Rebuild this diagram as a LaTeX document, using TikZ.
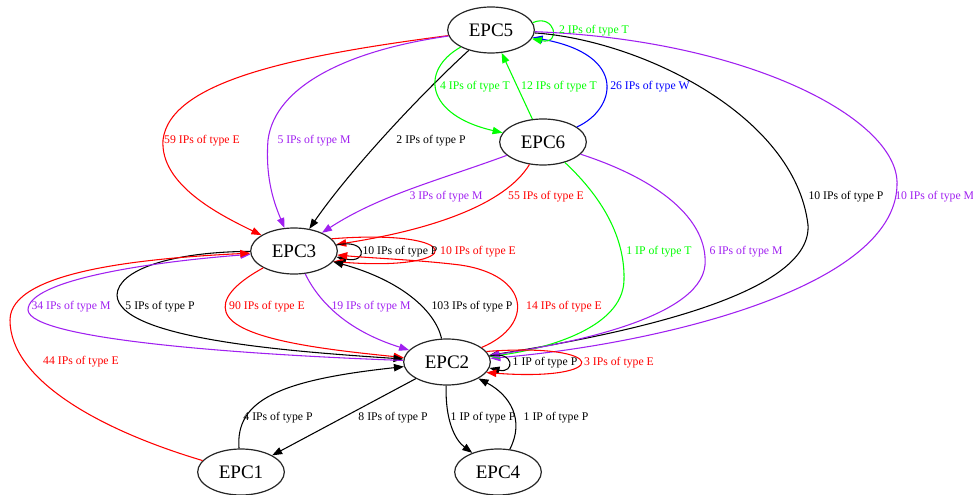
\documentclass[tikz,border=0pt]{standalone}
\usepackage{fontspec}
\setmainfont{Liberation Serif}
\usetikzlibrary{arrows.meta,shapes.geometric}
\definecolor{gvred}{RGB}{255,0,0}
\definecolor{gvpurple}{RGB}{160,32,240}
\definecolor{gvgreen}{RGB}{0,255,0}
\definecolor{gvblue}{RGB}{0,0,255}
\begin{document}
\begin{tikzpicture}[x=0.75pt,y=-0.75pt,
  epc/.style={draw=black!85,line width=0.9pt,ellipse,minimum width=65pt,minimum height=34.5pt,inner sep=0pt,font=\fontsize{14.3}{16}\selectfont},
  lbl/.style={font=\fontsize{8.8}{10}\selectfont,inner sep=0pt},
  conn/.style={line width=0.8pt,-{Triangle[length=7.5pt,width=5.5pt]}},
]
\useasboundingbox (0,0) rectangle (973,495);

% nodes
\node[epc] (n5) at (491,30) {EPC5};
\node[epc] (n6) at (543,142) {EPC6};
\node[epc] (n3) at (294,251) {EPC3};
\node[epc] (n2) at (447,362) {EPC2};
\node[epc] (n1) at (241,472) {EPC1};
\node[epc] (n4) at (498,472) {EPC4};

% EPC5 -> EPC3
\draw[conn,gvred] (n5) .. controls (300,55) and (170,80) .. (163,140) .. controls (160,185) and (220,215) .. (n3);
\draw[conn,gvpurple] (n5) .. controls (350,50) and (275,85) .. (268,140) .. controls (265,180) and (275,205) .. (n3);
\draw[conn,black] (n5) .. controls (420,95) and (350,170) .. (n3);
% EPC5 <-> EPC6
\draw[conn,gvgreen] (n5) .. controls (420,70) and (425,115) .. (n6);
\draw[conn,gvgreen] (n6) -- (n5);
\draw[conn,gvblue] (n6) .. controls (615,110) and (630,55) .. (n5);
% EPC5 self loop
\draw[conn,gvgreen] (n5.10) .. controls (555,13) and (562,45) .. (n5.-12);
% EPC5 -> EPC2
\draw[conn,black] (n5) .. controls (640,40) and (795,115) .. (808,225) .. controls (812,290) and (650,330) .. (n2);
\draw[conn,gvpurple] (n5) .. controls (750,40) and (900,120) .. (897,185) .. controls (895,290) and (650,345) .. (n2);
% EPC6 -> EPC3
\draw[conn,gvpurple] (n6) .. controls (440,180) and (380,195) .. (n3);
\draw[conn,gvred] (n6) .. controls (505,205) and (430,230) .. (n3);
% EPC6 -> EPC2
\draw[conn,gvgreen] (n6) .. controls (605,200) and (625,240) .. (624,280) .. controls (623,330) and (540,350) .. (n2);
\draw[conn,gvpurple] (n6) .. controls (660,180) and (708,220) .. (705,265) .. controls (700,320) and (560,345) .. (n2);
% EPC3 self loops
\draw[conn,black] (n3.8) .. controls (368,238) and (368,264) .. (n3.-8);
\draw[conn,gvred] (n3.18) .. controls (468,228) and (468,272) .. (n3.-15);
% EPC3 <-> EPC2
\draw[conn,gvred] (n3) .. controls (232,285) and (222,300) .. (226,312) .. controls (235,340) and (330,350) .. (n2);
\draw[conn,gvpurple] (n3) .. controls (318,300) and (345,330) .. (n2);
\draw[conn,black] (n2) .. controls (435,310) and (400,280) .. (n3);
\draw[conn,gvred] (n2) .. controls (535,325) and (530,275) .. (460,265) .. controls (420,260) and (370,258) .. (n3);
\draw[conn,black] (n3) .. controls (170,252) and (118,270) .. (117,295) .. controls (118,340) and (300,352) .. (n2);
\draw[conn,gvpurple] (n2) .. controls (250,355) and (30,340) .. (28,310) .. controls (28,280) and (150,262) .. (n3);
% EPC1
\draw[conn,gvred] (n1) .. controls (100,430) and (10,380) .. (10,320) .. controls (10,270) and (150,258) .. (n3);
\draw[conn,black] (n1) .. controls (235,400) and (280,380) .. (n2);
\draw[conn,black] (n2) -- (n1);
% EPC4
\draw[conn,black] (n2) .. controls (445,420) and (455,440) .. (n4);
\draw[conn,black] (n4) .. controls (525,420) and (510,395) .. (n2);
% EPC2 self loops
\draw[conn,black] (n2.8) .. controls (515,350) and (515,374) .. (n2.-8);
\draw[conn,gvred] (n2.15) .. controls (612,342) and (612,382) .. (n2.-15);

% labels
\node[lbl,gvred] (l1) at (202,141) {59 IPs of type E};
\node[lbl,gvpurple] (l2) at (314,141) {5 IPs of type M};
\node[lbl,black] (l3) at (431,141) {2 IPs of type P};
\node[lbl,gvgreen] (l4) at (475,87) {4 IPs of type T};
\node[lbl,gvgreen] (l5) at (559,87) {12 IPs of type T};
\node[lbl,gvblue] (l6) at (650,87) {26 IPs of type W};
\node[lbl,gvgreen] (l7) at (594,31) {2 IPs of type T};
\node[lbl,black] (l8) at (846,197) {10 IPs of type P};
\node[lbl,gvpurple,anchor=west] (l9) at (895,197) {10 IPs of type M};
\node[lbl,gvpurple] (l10) at (446,197) {3 IPs of type M};
\node[lbl,gvred] (l11) at (546,197) {55 IPs of type E};
\node[lbl,gvgreen] (l12) at (659,252) {1 IP of type T};
\node[lbl,gvpurple] (l13) at (746,252) {6 IPs of type M};
\node[lbl,black] (l14) at (400,252) {10 IPs of type P};
\node[lbl,gvred] (l15) at (478,252) {10 IPs of type E};
\node[lbl,gvred] (l16) at (267,307) {90 IPs of type E};
\node[lbl,gvpurple] (l17) at (371,307) {19 IPs of type M};
\node[lbl,black] (l18) at (472,307) {103 IPs of type P};
\node[lbl,gvred] (l19) at (564,307) {14 IPs of type E};
\node[lbl,gvpurple] (l20) at (71,307) {34 IPs of type M};
\node[lbl,black] (l21) at (160,307) {5 IPs of type P};
\node[lbl,gvred] (l22) at (81,362) {44 IPs of type E};
\node[lbl,black] (l23) at (278,418) {4 IPs of type P};
\node[lbl,black] (l24) at (393,418) {8 IPs of type P};
\node[lbl,black] (l25) at (483,418) {1 IP of type P};
\node[lbl,black] (l26) at (556,418) {1 IP of type P};
\node[lbl,black] (l27) at (545,363) {1 IP of type P};
\node[lbl,gvred] (l28) at (619,363) {3 IPs of type E};
\end{tikzpicture}
\end{document}
